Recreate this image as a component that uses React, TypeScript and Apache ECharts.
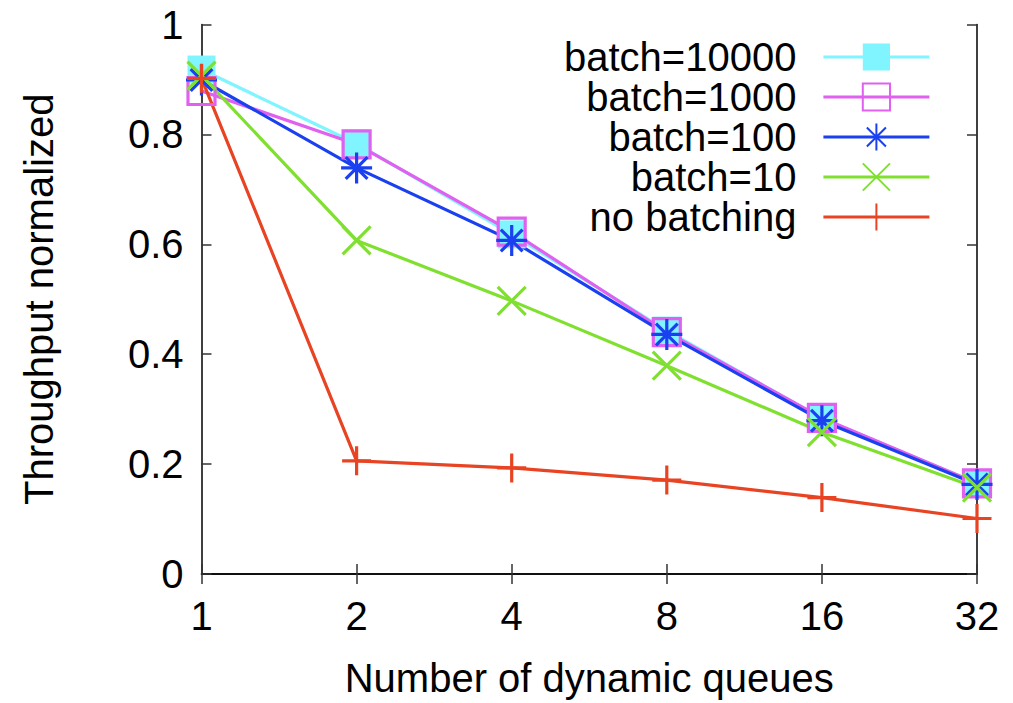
import React, { useEffect, useRef } from "react";
import * as echarts from "echarts";

const queues = ["1", "2", "4", "8", "16", "32"];
const batch10000 = [0.918, 0.783, 0.618, 0.443, 0.283, 0.165];
const batch1000 = [0.879, 0.782, 0.623, 0.44, 0.284, 0.165];
const batch100 = [0.899, 0.739, 0.607, 0.436, 0.279, 0.163];
const batch10 = [0.907, 0.607, 0.497, 0.379, 0.258, 0.157];
const noBatching = [0.902, 0.206, 0.193, 0.171, 0.139, 0.101];
const yTicks = { min: 0, max: 1, interval: 0.2 };

const FONT = "Liberation Sans";

const PLUS = "path://M0,10 L20,10 M10,0 L10,20";
const CROSS = "path://M0,0 L20,20 M0,20 L20,0";
const STAR = "path://M0,10 L20,10 M10,0 L10,20 M3,3 L17,17 M3,17 L17,3";

export default function App() {
  const ref = useRef<HTMLDivElement>(null);
  useEffect(() => {
    const chart = echarts.init(ref.current!, null, { renderer: "svg" });
    const axisLine = { show: true, lineStyle: { color: "#000", width: 1.5 } };
    const tick = { show: true, inside: true, length: 10, lineStyle: { color: "#333", width: 1.5 } };
    const mk = (name: string, data: number[], color: string, symbol: string, size: number, filled: boolean, stroke: boolean) => ({
      name,
      type: "line",
      data,
      xAxisIndex: 0,
      yAxisIndex: 0,
      symbol,
      symbolSize: size,
      showAllSymbol: true,
      lineStyle: { color, width: 3.2 },
      itemStyle: stroke
        ? { color: "rgba(0,0,0,0)", borderColor: color, borderWidth: 3.2 }
        : filled
        ? { color, borderColor: color, borderWidth: 0 }
        : { color: "rgba(255,255,255,0)", borderColor: color, borderWidth: 3.2 },
      emphasis: { disabled: true },
    });
    chart.setOption({
      animation: false,
      textStyle: { fontFamily: FONT },
      grid: { left: 201.5, right: 36, top: 24.5, bottom: 125.3, containLabel: false },
      xAxis: [
        {
          type: "category",
          data: queues,
          boundaryGap: false,
          axisLine,
          axisTick: tick,
          axisLabel: { color: "#000", fontSize: 40, fontFamily: FONT, margin: 22 },
          splitLine: { show: false },
          name: "Number of dynamic queues",
          nameLocation: "middle",
          nameGap: 84,
          nameTextStyle: { color: "#000", fontSize: 40, fontFamily: FONT },
        },
        {
          type: "category",
          data: queues,
          boundaryGap: false,
          position: "top",
          axisLine,
          axisTick: tick,
          axisLabel: { show: false },
          splitLine: { show: false },
        },
      ],
      yAxis: [
        {
          type: "value",
          min: yTicks.min,
          max: yTicks.max,
          interval: yTicks.interval,
          axisLine,
          axisTick: tick,
          axisLabel: { color: "#000", fontSize: 40, fontFamily: FONT, margin: 18 },
          splitLine: { show: false },
          name: "Throughput normalized",
          nameLocation: "middle",
          nameGap: 143,
          nameTextStyle: { color: "#000", fontSize: 40, fontFamily: FONT },
        },
        {
          type: "value",
          min: yTicks.min,
          max: yTicks.max,
          interval: yTicks.interval,
          position: "right",
          axisLine,
          axisTick: tick,
          axisLabel: { show: false },
          splitLine: { show: false },
        },
      ],
      legend: {
        orient: "vertical",
        right: 77,
        top: 32,
        align: "right",
        itemWidth: 106,
        itemHeight: 34,
        itemGap: 0,
        lineStyle: { width: 3.2 },
        formatter: "{a|{name}}",
        textStyle: {
          rich: {
            a: { width: 240, align: "right", fontSize: 40, fontFamily: FONT, color: "#000", lineHeight: 41, padding: [0, 22, 0, 0] },
          },
        },
        data: ["batch=10000", "batch=1000", "batch=100", "batch=10", "no batching"],
      },
      series: [
        mk("batch=10000", batch10000, "#80F4FF", "rect", 28, true, false),
        mk("batch=1000", batch1000, "#E060F0", "rect", 27, false, false),
        mk("batch=100", batch100, "#1A40F0", STAR, 31, false, true),
        mk("batch=10", batch10, "#80E030", CROSS, 28, false, true),
        mk("no batching", noBatching, "#E84424", PLUS, 29, false, true),
      ],
    });
    return () => chart.dispose();
  }, []);
  return <div ref={ref} style={{ position: "fixed", left: 0, top: 0, width: 1013, height: 703, background: "#fff" }} />;
}
